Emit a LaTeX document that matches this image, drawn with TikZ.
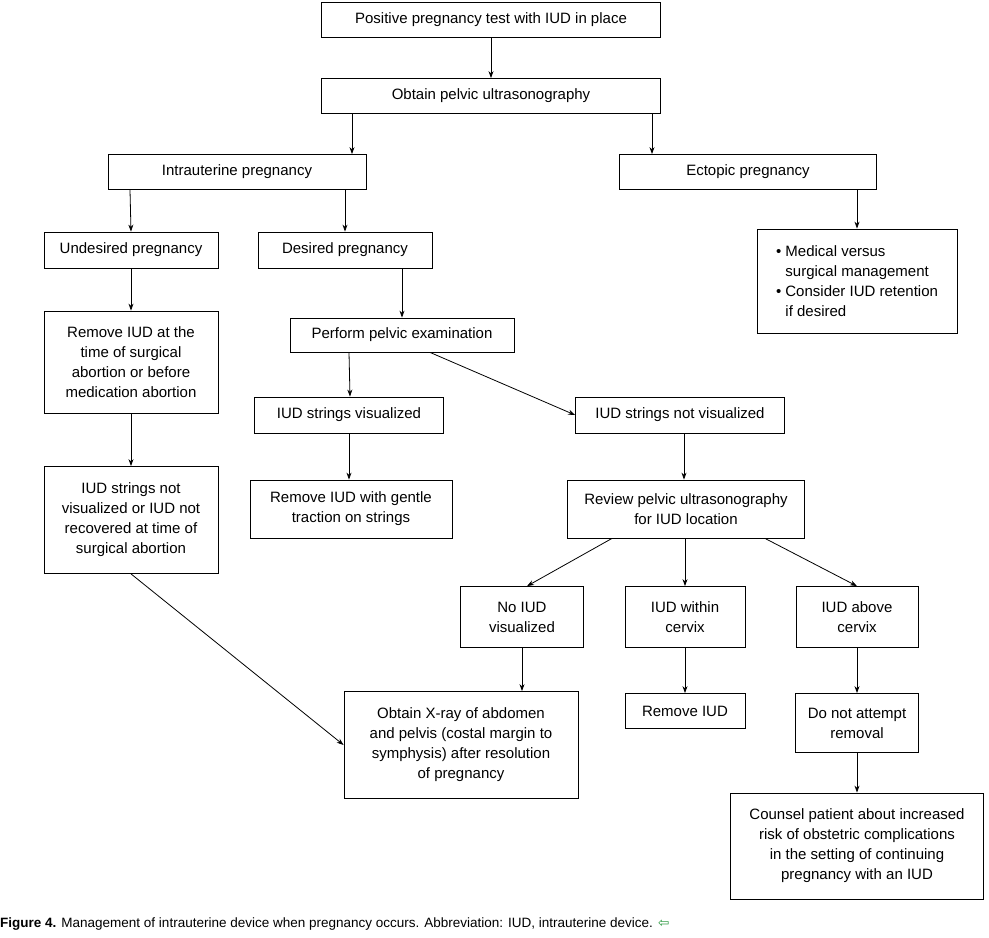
\documentclass[tikz,border=0pt]{standalone}
\usepackage{fontspec}
\setmainfont{Liberation Sans}
\newfontfamily\symfont{DejaVu Sans}
\usetikzlibrary{arrows.meta,positioning}
\definecolor{capgreen}{RGB}{40,150,60}

\begin{document}
\begin{tikzpicture}[x=1pt,y=-1pt,
  box/.style={draw,thick,align=center,inner sep=2pt,font=\fontsize{15}{20}\selectfont},
  arr/.style={thick,-{Stealth[length=7pt,width=5pt]}}]

 \useasboundingbox (0,0) rectangle (989,938);

 % top part
 \node[box,minimum width=339,minimum height=35] (pos) at (491,20) {Positive pregnancy test with IUD in place};
 \node[box,minimum width=339,minimum height=35] (obtain) at (491,96) {Obtain pelvic ultrasonography};
 \node[box,minimum width=258,minimum height=35] (intra) at (237,172) {Intrauterine pregnancy};
 \node[box,minimum width=257,minimum height=35] (ecto) at (748,172) {Ectopic pregnancy};
 \node[box,minimum width=174,minimum height=36] (undes) at (131,250) {Undesired pregnancy};
 \node[box,minimum width=174,minimum height=36] (des) at (345,250) {Desired pregnancy};
 \node[box,minimum width=200,minimum height=104,align=left] (mgmt) at (857,281)
   {• Medical versus\\\phantom{• }surgical management\\• Consider IUD retention\\\phantom{• }if desired};

 % left column
 \node[box,minimum width=174,minimum height=102] (remove1) at (131,362) {Remove IUD at the\\time of surgical\\abortion or before\\medication abortion};
 \node[box,minimum width=174,minimum height=107] (notrec) at (131,520) {IUD strings not\\visualized or IUD not\\recovered at time of\\surgical abortion};

 % desired branch
 \node[box,minimum width=224,minimum height=34] (exam) at (402,335) {Perform pelvic examination};
 \node[box,minimum width=189,minimum height=36] (vis) at (349,415) {IUD strings visualized};
 \node[box,minimum width=209,minimum height=36] (notvis) at (680,415) {IUD strings not visualized};
 \node[box,minimum width=202,minimum height=58] (gentle) at (351,509) {Remove IUD with gentle\\traction on strings};
 \node[box,minimum width=237,minimum height=58] (review) at (686,509) {Review pelvic ultrasonography\\for IUD location};
 \node[box,minimum width=123,minimum height=61] (noiud) at (522,617) {No IUD\\visualized};
 \node[box,minimum width=120,minimum height=61] (within) at (685,617) {IUD within\\cervix};
 \node[box,minimum width=122,minimum height=61] (above) at (857,617) {IUD above\\cervix};
 \node[box,minimum width=234,minimum height=107] (xray) at (461,745) {Obtain X-ray of abdomen\\and pelvis (costal margin to\\symphysis) after resolution\\of pregnancy};
 \node[box,minimum width=120,minimum height=35] (remove2) at (685,711) {Remove IUD};
 \node[box,minimum width=123,minimum height=59] (donot) at (857,723) {Do not attempt\\removal};
 \node[box,minimum width=253,minimum height=106] (counsel) at (857,846) {Counsel patient about increased\\risk of obstetric complications\\in the setting of continuing\\pregnancy with an IUD};

 % caption
 \node[anchor=west,inner sep=0,font=\fontsize{13.5}{16}\selectfont] (cap) at (0,924)
   {\textbf{Figure 4.} Management of intrauterine device when pregnancy occurs. Abbreviation: IUD, intrauterine device. {\color{capgreen}\symfont ⇦}};

 % connectors
 \draw[arr] (pos.south) -- (obtain.north);
 \draw[arr] ([xshift=-139]obtain.south) -- ([xshift=115]intra.north);
 \draw[arr] ([xshift=161]obtain.south) -- ([xshift=-96]ecto.north);
 \draw[arr] ([xshift=-107]intra.south) -- (undes.north);
 \draw[arr] ([xshift=108]intra.south) -- (des.north);
 \draw[arr] ([xshift=109]ecto.south) -- (mgmt.north);
 \draw[arr] (undes.south) -- (remove1.north);
 \draw[arr] (remove1.south) -- (notrec.north);
 \draw[arr] ([xshift=57]des.south) -- (exam.north);
 \draw[arr] ([xshift=-53]exam.south) -- ([xshift=1]vis.north);
 \draw[arr] ([xshift=28]exam.south) -- (notvis.west);
 \draw[arr] (vis.south) -- ([xshift=-2]gentle.north);
 \draw[arr] ([xshift=4]notvis.south) -- ([xshift=-2]review.north);
 \draw[arr] ([xshift=-74]review.south) -- ([xshift=5]noiud.north);
 \draw[arr] ([xshift=-1]review.south) -- (within.north);
 \draw[arr] ([xshift=79]review.south) -- (above.north);
 \draw[arr] (notrec.south) -- (xray.west);
 \draw[arr] (noiud.south) -- (noiud.south |- xray.north);
 \draw[arr] (within.south) -- (remove2.north);
 \draw[arr] (above.south) -- (donot.north);
 \draw[arr] (donot.south) -- (counsel.north);

\end{tikzpicture}
\end{document}
